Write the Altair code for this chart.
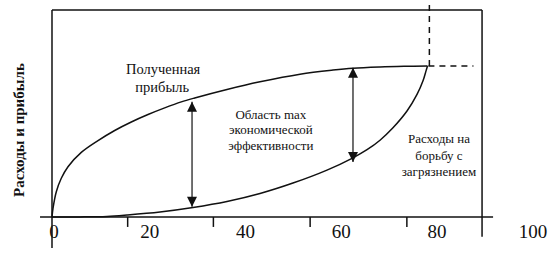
import altair as alt
import pandas as pd

# ---- values ----
# x: share of pollution removed (%), y: relative amount
upper_x = [0, 0.21, 0.90, 1.94, 3.34, 6.12, 9.61, 13.09, 16.56, 20.05, 23.53,
           27.00, 29.80, 36.54, 43.43, 51.79, 58.68, 62.85, 68.49, 73.50, 78.41]
upper_y = [0, 4.2, 12.2, 18.7, 24.3, 31.2, 36.9, 41.8, 45.9, 49.5, 52.7,
           55.6, 57.5, 61.6, 65.3, 69.0, 71.0, 71.9, 72.5, 72.8, 72.95]
lower_x = [0, 5.85, 11.48, 15.66, 22.55, 29.44, 36.54, 43.43, 50.32, 57.42,
           62.85, 65.78, 68.49, 71.20, 74.13, 76.22, 77.47, 78.10, 78.41]
lower_y = [0, 0.05, 0.30, 0.97, 2.42, 4.59, 7.49, 11.35, 16.4, 22.65,
           28.6, 32.5, 37.1, 43.1, 51.2, 59.2, 65.8, 70.6, 72.95]

arrow_x = [29.24, 62.85]
arrow_lo = [4.9, 26.6]
arrow_hi = [55.7, 72.1]

tick_x = [15.8, 33.7, 53.9, 74.1]
tick_labels = [0, 20, 40, 60, 80, 100]

y_title = "Расходы и прибыль"
notes = [
    ("Полученная", 23.2, 71.0, 14.5),
    ("прибыль", 23.0, 62.3, 14.5),
    ("Область max", 45.7, 49.3, 13),
    ("экономической", 45.7, 41.8, 13),
    ("эффективности", 45.7, 34.3, 13),
    ("Расходы на", 80.8, 37.7, 13),
    ("борьбу с", 80.8, 29.5, 13),
    ("загрязнением", 80.8, 21.7, 13),
]

# ---- scales (whole canvas) ----
X = alt.Scale(domain=[-10.858, 104.823], nice=False, zero=False)
Y = alt.Scale(domain=[-17.874, 104.831], nice=False, zero=False)
FONT = "Liberation Serif"
INK = "#111111"

rows = []
for i, (a, b) in enumerate(zip(upper_x, upper_y)):
    rows.append({"series": "profit", "i": i, "x": a, "y": b})
for i, (a, b) in enumerate(zip(lower_x, lower_y)):
    rows.append({"series": "cost", "i": i, "x": a, "y": b})
curves_df = pd.DataFrame(rows)

curves = alt.Chart(curves_df).mark_line(
    interpolate="catmull-rom", color=INK, strokeWidth=1.5
).encode(
    x=alt.X("x:Q", scale=X, axis=None),
    y=alt.Y("y:Q", scale=Y, axis=None),
    detail="series:N",
    order="i:Q",
)

# frame: left axis, top border, right border, bottom axis
frame_df = pd.DataFrame({
    "x": [0, 0, 89.8, -2.5],
    "x2": [0, 89.8, 89.8, 92.1],
    "y": [-15.0, 100, -9.5, 0],
    "y2": [100, 100, 100, 0],
})
frame = alt.Chart(frame_df).mark_rule(color=INK, strokeWidth=1.5).encode(
    x=alt.X("x:Q", scale=X, axis=None), x2="x2:Q",
    y=alt.Y("y:Q", scale=Y, axis=None), y2="y2:Q",
)

ticks_df = pd.DataFrame({"x": tick_x})
ticks = alt.Chart(ticks_df).mark_rule(color=INK, strokeWidth=1.5).encode(
    x=alt.X("x:Q", scale=X, axis=None),
    y=alt.YDatum(0, scale=Y, axis=None),
    y2=alt.Y2Datum(-4.8),
)

dash_df = pd.DataFrame({
    "x": [78.6, 78.8],
    "x2": [88.0, 78.8],
    "y": [72.95, 72.95],
    "y2": [72.95, 104.8],
})
dashes = alt.Chart(dash_df).mark_rule(
    color=INK, strokeWidth=1.5, strokeDash=[6, 5]
).encode(
    x=alt.X("x:Q", scale=X, axis=None), x2="x2:Q",
    y=alt.Y("y:Q", scale=Y, axis=None), y2="y2:Q",
)

arrows_df = pd.DataFrame({"x": arrow_x, "lo": arrow_lo, "hi": arrow_hi})
shafts = alt.Chart(arrows_df).mark_rule(color=INK, strokeWidth=1.2).encode(
    x=alt.X("x:Q", scale=X, axis=None),
    y=alt.Y("lo:Q", scale=Y, axis=None), y2="hi:Q",
)
heads_up = alt.Chart(arrows_df).mark_point(
    shape="M0,0L1,2L-1,2Z", filled=True, size=100, color=INK, opacity=1
).encode(
    x=alt.X("x:Q", scale=X, axis=None),
    y=alt.Y("hi:Q", scale=Y, axis=None),
)
heads_down = alt.Chart(arrows_df).mark_point(
    shape="M0,0L1,-2L-1,-2Z", filled=True, size=100, color=INK, opacity=1
).encode(
    x=alt.X("x:Q", scale=X, axis=None),
    y=alt.Y("lo:Q", scale=Y, axis=None),
)

labels_df = pd.DataFrame({"v": tick_labels, "t": [str(v) for v in tick_labels]})
tick_text = alt.Chart(labels_df).mark_text(
    font=FONT, fontSize=19, color=INK, align="center", baseline="alphabetic", dx=2
).encode(
    x=alt.X("v:Q", scale=X, axis=None),
    y=alt.YDatum(-10.1, scale=Y, axis=None),
    text="t:N",
)

notes_df = pd.DataFrame(notes, columns=["t", "x", "y", "s"])
layers_notes = []
for s in sorted(set(notes_df["s"])):
    sub = notes_df[notes_df["s"] == s]
    layers_notes.append(
        alt.Chart(sub).mark_text(
            font=FONT, fontSize=s, color=INK, align="center", baseline="middle"
        ).encode(
            x=alt.X("x:Q", scale=X, axis=None),
            y=alt.Y("y:Q", scale=Y, axis=None),
            text="t:N",
        )
    )

title_df = pd.DataFrame({"t": [y_title], "x": [-6.9], "y": [42.0]})
title_text = alt.Chart(title_df).mark_text(
    font=FONT, fontSize=15, fontWeight="bold", color=INK, angle=270,
    align="center", baseline="middle"
).encode(
    x=alt.X("x:Q", scale=X, axis=None),
    y=alt.Y("y:Q", scale=Y, axis=None),
    text="t:N",
)

chart = alt.layer(
    frame, ticks, dashes, curves, shafts, heads_up, heads_down,
    tick_text, *layers_notes, title_text
).properties(
    width=554, height=254,
    autosize=alt.AutoSizeParams(type="none"),
    padding=0,
    background="white",
).configure_view(stroke=None)

chart.save("out.html", embed_options={"renderer": "svg", "actions": False})
